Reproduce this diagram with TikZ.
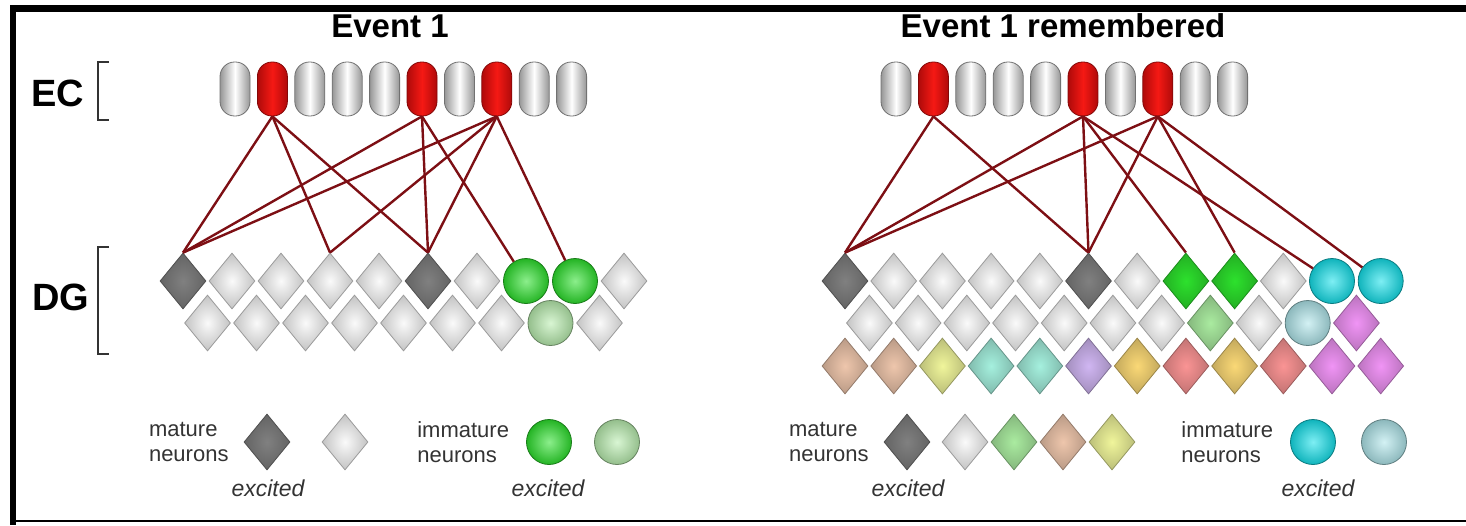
\documentclass[tikz,border=0pt]{standalone}
\usepackage{fontspec}
\setmainfont{Liberation Sans}
\usepackage{xcolor}
\usetikzlibrary{shapes.geometric, positioning}

\definecolor{ecgray}{RGB}{150,150,150}
\definecolor{ecred}{RGB}{175,10,10}
\definecolor{ecredhi}{RGB}{245,25,20}
\definecolor{linkred}{RGB}{125,15,20}
\definecolor{cwhite}{RGB}{250,250,250}
\definecolor{cdark}{RGB}{128,128,128}
\definecolor{cgreen}{RGB}{45,225,45}
\definecolor{cgreenlt}{RGB}{185,238,175}
\definecolor{ccyan}{RGB}{20,225,235}
\definecolor{ccyanlt}{RGB}{175,230,235}
\definecolor{cmint}{RGB}{170,235,160}
\definecolor{ctan}{RGB}{238,198,172}
\definecolor{cyellow}{RGB}{240,245,155}
\definecolor{caqua}{RGB}{165,240,222}
\definecolor{clav}{RGB}{208,182,242}
\definecolor{cgold}{RGB}{250,216,118}
\definecolor{csalmon}{RGB}{250,148,148}
\definecolor{cviolet}{RGB}{240,148,245}

\begin{document}
\begin{tikzpicture}[
    x=0.5pt, y=-0.5pt,
    pill/.style 2 args={rectangle, rounded corners=7.3pt, minimum width=15pt, minimum height=27pt, inner sep=0pt, left color=#1, right color=#1, middle color=#2, draw=#1!75!black, line width=0.4pt},
    ecoff/.style={pill={ecgray}{white}},
    econ/.style={pill={ecred}{ecredhi}},
    dia/.style={diamond, minimum width=23pt, minimum height=28pt, inner sep=0pt, inner color=#1, outer color=#1!78!black, draw=#1!62!black, line width=0.4pt},
    ball/.style={circle, minimum size=22.5pt, inner sep=0pt, inner color=#1!55!white, outer color=#1!80!black, draw=#1!55!black, line width=0.4pt},
    link/.style={draw=linkred, line width=1.2pt},
    title/.style={font=\fontsize{16.5}{18}\selectfont\bfseries},
    region/.style={font=\fontsize{19}{21}\selectfont\bfseries},
    legend/.style={font=\fontsize{11}{12.5}\selectfont, text=black!80, align=left},
    note/.style={font=\fontsize{11.5}{13}\selectfont\itshape, text=black!80}
]
\useasboundingbox (0,0) rectangle (1466,525);

% Frame
\draw[line width=3.5pt] (10,8.5) -- (1466,8.5);
\draw[line width=3pt] (13,5) -- (13,525);
\draw[line width=1pt] (10,521) -- (1466,521);

% Region labels
\node[region] (ec) at (58,93) {EC};
\node[region] (dg) at (61,297) {DG};
\draw[line width=0.8pt, black!80] (109,62) -- (98,62) -- (98,120) -- (109,120);
\draw[line width=0.8pt, black!80] (109,247) -- (98,247) -- (98,354) -- (109,354);

% Left: Event 1
\node[title] (ltitle) at (390,26) {Event 1};
\foreach \s [count=\i] in {ecoff,econ,ecoff,ecoff,ecoff,econ,ecoff,econ,ecoff,ecoff}
  \node[\s] (lec\i) at ({235+37.4*(\i-1)},89) {};
\foreach \k/\c [count=\i from 0] in {dia/cdark,dia/cwhite,dia/cwhite,dia/cwhite,dia/cwhite,dia/cdark,dia/cwhite,ball/cgreen,ball/cgreen,dia/cwhite}
  \node[\k=\c] (la\i) at ({183+49*\i},281) {};
\foreach \k/\c [count=\i from 0] in {dia/cwhite,dia/cwhite,dia/cwhite,dia/cwhite,dia/cwhite,dia/cwhite,dia/cwhite,ball/cgreenlt,dia/cwhite}
  \node[\k=\c] (lb\i) at ({207.5+49*\i},323) {};
\foreach \a/\b in {lec2.south/la0.north,lec2.south/la3.north,lec2.south/la5.north,
                   lec6.south/la0.north,lec6.south/la5.north,lec6.south/la7,
                   lec8.south/la0.north,lec8.south/la3.north,lec8.south/la5.north,lec8.south/la8}
  \draw[link] (\a) -- (\b);

% Right: Event 1 remembered
\node[title] (rtitle) at (1063,26) {Event 1 remembered};
\foreach \s [count=\i] in {ecoff,econ,ecoff,ecoff,ecoff,econ,ecoff,econ,ecoff,ecoff}
  \node[\s] (rec\i) at ({896+37.4*(\i-1)},89) {};
\foreach \k/\c [count=\i from 0] in {dia/cdark,dia/cwhite,dia/cwhite,dia/cwhite,dia/cwhite,dia/cdark,dia/cwhite,dia/cgreen,dia/cgreen,dia/cwhite,ball/ccyan,ball/ccyan}
  \node[\k=\c] (ra\i) at ({845+48.7*\i},281) {};
\foreach \k/\c [count=\i from 0] in {dia/cwhite,dia/cwhite,dia/cwhite,dia/cwhite,dia/cwhite,dia/cwhite,dia/cwhite,dia/cmint,dia/cwhite,ball/ccyanlt,dia/cviolet}
  \node[\k=\c] (rb\i) at ({869.4+48.7*\i},323) {};
\foreach \c [count=\i from 0] in {ctan,ctan,cyellow,caqua,caqua,clav,cgold,csalmon,cgold,csalmon,cviolet,cviolet}
  \node[dia=\c] (rc\i) at ({845+48.7*\i},366) {};
\foreach \a/\b in {rec2.south/ra0.north,rec2.south/ra5.north,
                   rec6.south/ra0.north,rec6.south/ra5.north,rec6.south/ra7.north,rec6.south/ra10,
                   rec8.south/ra0.north,rec8.south/ra5.north,rec8.south/ra8.north,rec8.south/ra11}
  \draw[link] (\a) -- (\b);

% Legends
\node[dia=cdark] (lkey1) at (267,442) {};
\node[dia=cwhite] (lkey2) at (345,442) {};
\node[legend, left=4pt of lkey1] (lmat) {mature\\neurons};
\node[note] (lexc1) at (268,488) {excited};
\node[ball=cgreen] (lkey3) at (549,442) {};
\node[ball=cgreenlt] (lkey4) at (617,442) {};
\node[legend, left=5pt of lkey3] (limm) {immature\\neurons};
\node[note] (lexc2) at (548,488) {excited};

\node[dia=cdark] (rkey1) at (907,442) {};
\node[dia=cwhite] (rkey2) at (965,442) {};
\node[dia=cmint] (rkey3) at (1014,442) {};
\node[dia=ctan] (rkey4) at (1063,442) {};
\node[dia=cyellow] (rkey5) at (1112,442) {};
\node[legend, left=4pt of rkey1] (rmat) {mature\\neurons};
\node[note] (rexc1) at (908,488) {excited};
\node[ball=ccyan] (rkey6) at (1313,442) {};
\node[ball=ccyanlt] (rkey7) at (1384,442) {};
\node[legend, left=5pt of rkey6] (rimm) {immature\\neurons};
\node[note] (rexc2) at (1318,488) {excited};
\end{tikzpicture}
\end{document}
